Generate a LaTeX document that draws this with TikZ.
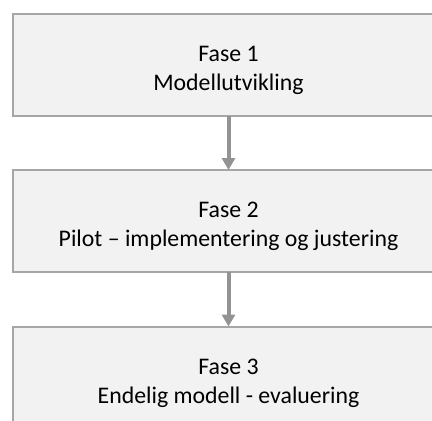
\documentclass[tikz,border=0pt]{standalone}
\usepackage{fontspec}
\setmainfont{Carlito}
\usetikzlibrary{positioning, arrows.meta}

\definecolor{boxfill}{HTML}{F2F2F2}
\definecolor{boxline}{HTML}{A6A6A6}
\definecolor{arrowgray}{HTML}{939393}

\begin{document}
\begin{tikzpicture}[x=1pt, y=1pt,
    phasebox/.style={draw=boxline, line width=2pt, fill=boxfill, outer sep=0pt,
      minimum width=431pt, minimum height=102pt, align=center,
      text height=58pt, text depth=7pt,
      font=\fontsize{23.8}{29}\selectfont},
    flow/.style={draw=arrowgray, line width=4pt, -{Triangle[width=13pt, length=12pt]}},
    node distance=54.5pt]
  % Frame of the picture
  \useasboundingbox (0,0) rectangle (432,-421);
  \clip (0,0) rectangle (432,-421);

  % Phases
  \node[phasebox] (fase1) at (228.5,-64.5) {Fase 1\\Modellutvikling};
  \node[phasebox, below=of fase1] (fase2) {Fase 2\\Pilot -- implementering og justering};
  \node[phasebox, below=of fase2] (fase3) {Fase 3\\Endelig modell - evaluering};

  % Arrows between phases
  \draw[flow] (fase1) -- (fase2);
  \draw[flow] (fase2) -- (fase3);
\end{tikzpicture}
\end{document}
